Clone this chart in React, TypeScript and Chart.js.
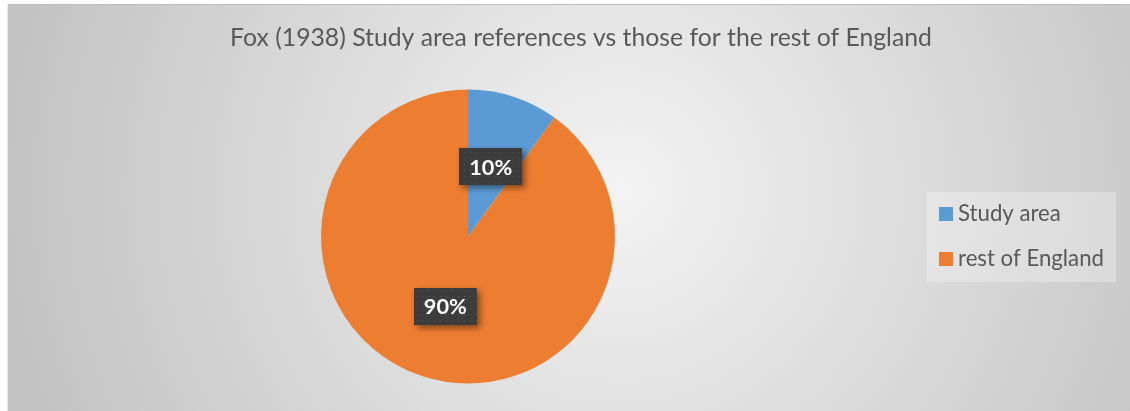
import React, { useEffect, useRef } from "react";
import { Chart, registerables } from "chart.js";
Chart.register(...registerables);

const categories = ["Study area", "rest of England"];
const values = [10, 90];
const colors = ["#5B9BD5", "#ED7D31"];
const titleText = "Fox (1938) Study area references vs those for the rest of England";
const FONT = "Lato, 'Open Sans', sans-serif";

function makePattern(ctx: CanvasRenderingContext2D) {
  const c = document.createElement("canvas");
  c.width = 6;
  c.height = 6;
  const p = c.getContext("2d")!;
  p.fillStyle = "#3c3c3c";
  p.fillRect(0, 0, 6, 6);
  p.fillStyle = "#575757";
  p.fillRect(2, 2, 1, 1);
  return ctx.createPattern(c, "repeat")!;
}

function fitFont(ctx: CanvasRenderingContext2D, text: string, target: number, weight: string) {
  ctx.font = `${weight} 20px ${FONT}`;
  const w = ctx.measureText(text).width;
  const size = (20 * target) / w;
  return `${weight} ${size.toFixed(2)}px ${FONT}`;
}

export default function App() {
  const ref = useRef<HTMLCanvasElement>(null);
  useEffect(() => {
    document.body.style.margin = "0";
    const canvas = ref.current!;
    const bgPlugin = {
      id: "bg",
      beforeDraw(chart: any) {
        const ctx = chart.ctx as CanvasRenderingContext2D;
        const W = chart.width, H = chart.height;
        ctx.save();
        ctx.fillStyle = "#ffffff";
        ctx.fillRect(0, 0, W, H);
        const x0 = 7, y0 = 4;
        const cx = 620, cy = 190;
        const g = ctx.createRadialGradient(cx, cy, 0, cx, cy, 620);
        g.addColorStop(0, "#f3f3f3");
        g.addColorStop(1, "#c3c3c3");
        ctx.fillStyle = g;
        ctx.fillRect(x0, y0, W - x0, H - y0);
        ctx.strokeStyle = "#bdbdbd";
        ctx.lineWidth = 1;
        ctx.beginPath();
        ctx.moveTo(x0, y0 + 0.5);
        ctx.lineTo(W, y0 + 0.5);
        ctx.stroke();
        ctx.strokeStyle = "#e6e6e6";
        ctx.beginPath();
        ctx.moveTo(x0 + 0.5, y0);
        ctx.lineTo(x0 + 0.5, H);
        ctx.stroke();
        // title
        ctx.fillStyle = "#595959";
        ctx.font = fitFont(ctx, titleText, 702, "normal");
        ctx.textAlign = "center";
        ctx.textBaseline = "middle";
        ctx.fillText(titleText, 581, 38);
        // legend
        ctx.fillStyle = "rgba(255,255,255,0.28)";
        ctx.fillRect(927, 192, 189, 90);
        const labels = chart.data.labels as string[];
        const bg = chart.data.datasets[0].backgroundColor as string[];
        const legendFont = fitFont(ctx, "rest of England", 146, "normal");
        labels.forEach((l, i) => {
          const y = 214 + i * 45;
          ctx.fillStyle = bg[i];
          ctx.fillRect(939, y - 7, 14, 14);
          ctx.fillStyle = "#595959";
          ctx.font = legendFont;
          ctx.textAlign = "left";
          ctx.fillText(l, 958, y);
        });
        ctx.restore();
      },
    };
    const labelPlugin = {
      id: "pctLabels",
      afterDatasetsDraw(chart: any) {
        const ctx = chart.ctx as CanvasRenderingContext2D;
        const meta = chart.getDatasetMeta(0);
        const data = chart.data.datasets[0].data as number[];
        const total = data.reduce((a, b) => a + b, 0);
        const pat = makePattern(ctx);
        meta.data.forEach((arc: any, i: number) => {
          const p = arc.tooltipPosition();
          const w = 63, h = 37;
          ctx.save();
          ctx.shadowColor = "rgba(0,0,0,0.45)";
          ctx.shadowBlur = 6;
          ctx.shadowOffsetX = 3;
          ctx.shadowOffsetY = 3;
          ctx.fillStyle = pat;
          ctx.fillRect(Math.round(p.x - w / 2), Math.round(p.y - h / 2), w, h);
          ctx.restore();
          ctx.save();
          const txt = Math.round((data[i] / total) * 100) + "%";
          ctx.fillStyle = "#ffffff";
          ctx.font = fitFont(ctx, txt, 43, "bold");
          ctx.textAlign = "center";
          ctx.textBaseline = "middle";
          ctx.fillText(txt, p.x, p.y + 1);
          ctx.restore();
        });
      },
    };
    const chart = new Chart(canvas, {
      type: "pie",
      data: {
        labels: categories,
        datasets: [
          {
            data: values,
            backgroundColor: colors,
            borderWidth: 0,
          },
        ],
      },
      options: {
        animation: false,
        responsive: false,
        layout: { padding: { left: 321, right: 515, top: 89.5, bottom: 27.5 } },
        plugins: {
          legend: { display: false },
          title: { display: false },
          tooltip: { enabled: false },
        },
      },
      plugins: [bgPlugin, labelPlugin],
    });
    return () => chart.destroy();
  }, []);
  return (
    <div style={{ position: "absolute", left: 0, top: 0, width: 1130, height: 411 }}>
      <canvas ref={ref} width={1130} height={411} style={{ display: "block" }} />
    </div>
  );
}
